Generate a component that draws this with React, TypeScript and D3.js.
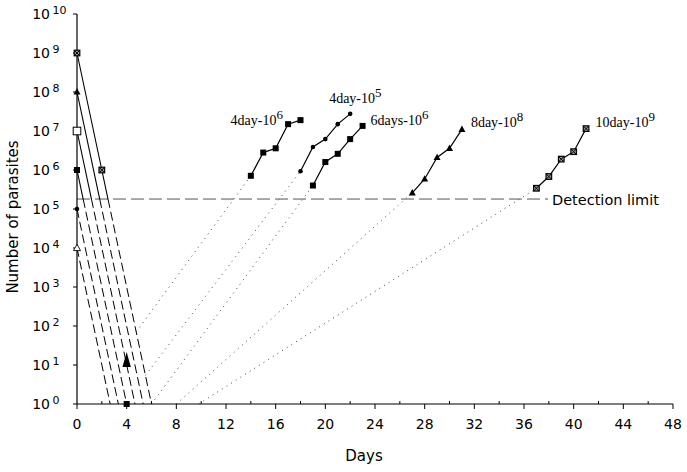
import React from "react";
import * as d3 from "d3";

// ---------- data ----------
const xTicks = [0, 4, 8, 12, 16, 20, 24, 28, 32, 36, 40, 44, 48];
const xMinorTicks = [2, 6, 10, 14, 18, 22, 26, 30, 34, 38, 42, 46];
const yExponents = [0, 1, 2, 3, 4, 5, 6, 7, 8, 9, 10];

const detectionLimit = 1.8e5;

// decline after treatment (day 0 inoculum -> day reaching 10^0)
const initialCounts = [1e9, 1e8, 1e7, 1e6, 1e5, 1e4];
const clearanceDays = [6, 5.33, 4.67, 4, 3.33, 2.67];
const initialMarkers = ["crossSquare", "triangle", "openSquare", "square", "circle", "openTriangle"];

// extra measured points
const day2Point = { day: 2, count: 1e6 };
const day4Days = [4, 4];
const day4Counts = [12, 1];
const day4Markers = ["tallTriangle", "square"];

// regrowth series
const seriesNames = ["4day-10", "4day-10", "6days-10", "8day-10", "10day-10"];
const seriesExponents = ["6", "5", "6", "8", "9"];
const seriesDays = [
  [14, 15, 16, 17, 18],
  [18, 19, 20, 21, 22],
  [19, 20, 21, 22, 23],
  [27, 28, 29, 30, 31],
  [37, 38, 39, 40, 41],
];
const seriesCounts = [
  [7.1e5, 2.8e6, 3.6e6, 1.5e7, 1.9e7],
  [9.3e5, 3.9e6, 6.2e6, 1.5e7, 2.75e7],
  [4.0e5, 1.6e6, 2.6e6, 6.2e6, 1.35e7],
  [2.6e5, 5.9e5, 2.1e6, 3.6e6, 1.1e7],
  [3.4e5, 6.8e5, 1.9e6, 2.95e6, 1.15e7],
];
const seriesMarkers = ["square", "circle", "square", "triangle", "crossSquare"];
// where the dotted extrapolation starts
const regrowthStartDays = [4.77, 5.51, 6, 8, 9.8];
const regrowthStartCounts = [71, 5.4, 1, 1, 1];

// label offsets (px) relative to last point of each series
const labelOffsets = [
  [-70, 5],
  [-21, -11],
  [8, -1],
  [9, -2.5],
  [9.5, -1.5],
];

// ---------- scales ----------
const W = 687;
const H = 472;
const x = d3.scaleLinear().domain([0, 48]).range([77, 673]);
const y = d3.scaleLog().domain([1, 1e10]).range([404, 14]);

const SANS = "'DejaVu Sans', sans-serif";
const SERIF = "'Liberation Serif', 'Times New Roman', serif";

function Marker({ type, cx, cy }: { type: string; cx: number; cy: number }) {
  switch (type) {
    case "square":
      return <rect x={cx - 3} y={cy - 3} width={6} height={6} fill="#000" />;
    case "openSquare":
      return <rect x={cx - 3.8} y={cy - 3.8} width={7.6} height={7.6} fill="#fff" stroke="#000" strokeWidth={1} />;
    case "crossSquare":
      return (
        <g>
          <rect x={cx - 2.8} y={cy - 2.8} width={5.6} height={5.6} fill="#999" stroke="#000" strokeWidth={1.2} />
          <path d={`M${cx - 2.8},${cy - 2.8}L${cx + 2.8},${cy + 2.8}M${cx + 2.8},${cy - 2.8}L${cx - 2.8},${cy + 2.8}`} stroke="#000" strokeWidth={1} />
        </g>
      );
    case "triangle":
      return <path d={`M${cx},${cy - 3.8}L${cx + 3.5},${cy + 2.6}L${cx - 3.5},${cy + 2.6}Z`} fill="#000" />;
    case "openTriangle":
      return <path d={`M${cx},${cy - 3.8}L${cx + 3.5},${cy + 2.6}L${cx - 3.5},${cy + 2.6}Z`} fill="#fff" stroke="#000" strokeWidth={0.9} />;
    case "tallTriangle":
      return <path d={`M${cx},${cy - 10}L${cx + 4.2},${cy + 5}L${cx - 4.2},${cy + 5}Z`} fill="#000" />;
    case "circle":
      return <circle cx={cx} cy={cy} r={2.3} fill="#000" />;
    default:
      return null;
  }
}

export default function App() {
  const lineGen = d3
    .line<[number, number]>()
    .x((d) => x(d[0]))
    .y((d) => y(d[1]));

  const logDet = Math.log10(detectionLimit);

  // decline lines: solid above the detection limit, dashed below
  const declines = initialCounts.map((c, i) => {
    const pts: [number, number][] = [[0, c]];
    if (i === 0) pts.push([day2Point.day, day2Point.count]);
    pts.push([clearanceDays[i], 1]);
    const solid: [number, number][] = [];
    let dashed: [number, number][] = [];
    if (c <= detectionLimit) {
      dashed = pts;
    } else {
      for (let k = 0; k < pts.length - 1; k++) {
        const a = pts[k];
        const b = pts[k + 1];
        solid.push(a);
        const la = Math.log10(a[1]);
        const lb = Math.log10(b[1]);
        if (la > logDet && lb <= logDet) {
          const t = (la - logDet) / (la - lb);
          const cross: [number, number] = [a[0] + t * (b[0] - a[0]), detectionLimit];
          solid.push(cross);
          dashed = [cross, ...pts.slice(k + 1)];
          break;
        }
      }
    }
    return { solid, dashed };
  });

  return (
    <svg width={W} height={H} style={{ position: "absolute", left: 0, top: 0, background: "#fff" }}>
      <rect x={0} y={0} width={W} height={H} fill="#fff" />

      {/* dotted regrowth extrapolations */}
      {seriesDays.map((days, i) => (
        <path
          key={`dot${i}`}
          d={lineGen([
            [regrowthStartDays[i], regrowthStartCounts[i]],
            [days[0], seriesCounts[i][0]],
          ]) as string}
          fill="none"
          stroke="#444"
          strokeWidth={1}
          strokeDasharray="1,4.5"
        />
      ))}

      {/* detection limit */}
      <line x1={x(0)} x2={548} y1={y(detectionLimit)} y2={y(detectionLimit)} stroke="#555" strokeWidth={1} strokeDasharray="13,5" />
      <text x={552} y={y(detectionLimit) + 5.5} fontFamily={SANS} fontSize={14.5} fill="#000">
        Detection limit
      </text>

      {/* decline lines */}
      {declines.map((dl, i) => (
        <g key={`dec${i}`}>
          {dl.solid.length > 1 && (
            <path d={lineGen(dl.solid) as string} fill="none" stroke="#000" strokeWidth={1.1} />
          )}
          <path d={lineGen(dl.dashed) as string} fill="none" stroke="#000" strokeWidth={1} strokeDasharray="9,4" />
        </g>
      ))}

      {/* axes */}
      <line x1={x(0)} x2={x(0)} y1={y(1e10)} y2={y(1)} stroke="#000" strokeWidth={1.2} />
      <line x1={x(0)} x2={x(48)} y1={y(1)} y2={y(1)} stroke="#000" strokeWidth={1.2} />
      {yExponents.map((e) => {
        const yy = y(Math.pow(10, e));
        return (
          <g key={`yt${e}`}>
            <line x1={x(0) - 4} x2={x(0)} y1={yy} y2={yy} stroke="#000" strokeWidth={1} />
            <text x={50} y={yy + 5} textAnchor="end" fontFamily={SANS} fontSize={14} fill="#000">
              10
            </text>
            <text x={52.5} y={yy - 0.5} fontFamily={SANS} fontSize={11} fill="#000">
              {e}
            </text>
          </g>
        );
      })}
      {xTicks.map((t) => (
        <g key={`xt${t}`}>
          <line x1={x(t)} x2={x(t)} y1={y(1)} y2={y(1) + 5} stroke="#000" strokeWidth={1} />
          <text x={x(t)} y={429} textAnchor="middle" fontFamily={SANS} fontSize={14} fill="#000">
            {t}
          </text>
        </g>
      ))}
      {xMinorTicks.map((t) => (
        <line key={`xm${t}`} x1={x(t)} x2={x(t)} y1={y(1) - 3} y2={y(1)} stroke="#000" strokeWidth={1} />
      ))}

      <text x={364} y={461} textAnchor="middle" fontFamily={SANS} fontSize={15} fill="#000">
        Days
      </text>
      <text
        transform={`translate(18, 217) rotate(-90)`}
        textAnchor="middle"
        fontFamily={SANS}
        fontSize={15}
        fill="#000"
      >
        Number of parasites
      </text>

      {/* regrowth series */}
      {seriesDays.map((days, i) => {
        const pts = days.map((d, k) => [d, seriesCounts[i][k]] as [number, number]);
        const last = pts[pts.length - 1];
        return (
          <g key={`s${i}`}>
            <path d={lineGen(pts) as string} fill="none" stroke="#000" strokeWidth={1.2} />
            {pts.map((p, k) => (
              <Marker key={k} type={seriesMarkers[i]} cx={x(p[0])} cy={y(p[1])} />
            ))}
            <text
              x={x(last[0]) + labelOffsets[i][0]}
              y={y(last[1]) + labelOffsets[i][1]}
              fontFamily={SERIF}
              fontSize={14}
              fill="#000"
            >
              {seriesNames[i]}
              <tspan dy={-6} fontSize={13}>
                {seriesExponents[i]}
              </tspan>
            </text>
          </g>
        );
      })}

      {/* initial markers */}
      {initialCounts.map((c, i) => (
        <Marker key={`im${i}`} type={initialMarkers[i]} cx={x(0)} cy={y(c)} />
      ))}
      <Marker type="crossSquare" cx={x(day2Point.day)} cy={y(day2Point.count)} />
      {day4Days.map((d, i) => (
        <Marker key={`d4${i}`} type={day4Markers[i]} cx={x(d)} cy={y(day4Counts[i])} />
      ))}
    </svg>
  );
}
